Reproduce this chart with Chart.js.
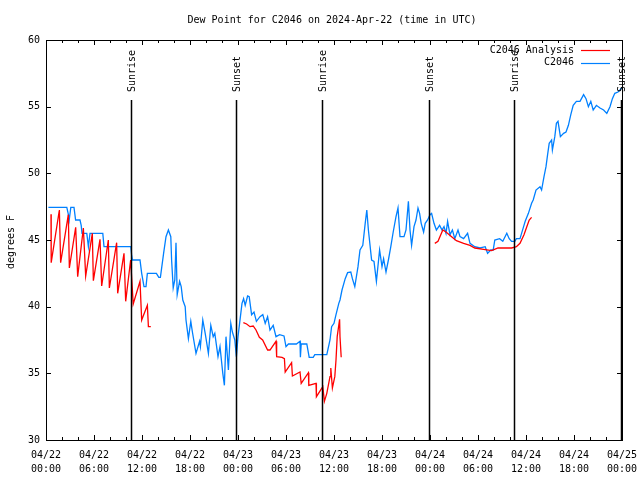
<!DOCTYPE html>
<html>
<head>
<meta charset="utf-8">
<script src="https://cdn.jsdelivr.net/npm/chart.js@4/dist/chart.umd.min.js"></script>
<style>
  html, body { margin: 0; padding: 0; background: #fff; }
  #c { display: block; }
</style>
</head>
<body>
<canvas id="c" width="640" height="480"></canvas>
<script>
// hours since 04/22 00:00 UTC
var obsHours = [0.3,2.6,2.8,2.9,3.1,3.5,3.7,4.25,4.4,4.5,5.1,5.3,5.5,7.1,7.25,10.6,10.7,10.8,11.75,11.96,
  12.25,12.5,12.67,13.8,14.1,14.3,14.7,15.0,15.3,15.6,15.7,15.9,16.1,16.25,16.4,16.7,16.9,17.1,17.4,17.5,
  17.8,18.1,18.3,18.75,19.2,19.3,19.6,19.9,20.3,20.6,20.9,21.1,21.5,21.75,22.1,22.3,22.5,22.8,23.1,23.3,
  23.6,23.8,24.0,24.5,24.7,24.9,25.2,25.4,25.7,26.0,26.3,26.75,27.1,27.4,27.7,28.0,28.4,28.75,29.2,29.75,
  30.0,30.3,31.3,31.75,31.8,31.9,32.6,32.9,33.4,33.6,35.1,35.5,35.7,36.0,36.25,36.6,36.75,37.0,37.4,37.7,
  38.1,38.3,38.6,39.0,39.25,39.6,39.9,40.1,40.3,40.7,41.0,41.3,41.7,42.0,42.2,42.5,42.8,43.1,43.4,43.75,
  44.0,44.25,44.75,45.0,45.3,45.5,45.7,46.0,46.25,46.5,46.7,46.9,47.2,47.4,47.7,48.0,48.2,48.5,48.8,49.2,
  49.5,49.75,50.0,50.2,50.5,50.8,51.1,51.5,51.75,52.2,52.7,53.0,53.6,54.25,54.9,55.2,55.6,55.9,56.1,56.7,
  57.1,57.6,57.9,58.2,58.6,58.8,59.25,59.7,59.9,60.3,60.7,60.9,61.25,61.75,61.95,62.25,62.5,62.7,62.9,63.2,
  63.3,63.6,63.8,64.0,64.3,64.7,65.0,65.3,65.6,65.9,66.3,66.75,67.2,67.5,67.8,68.1,68.4,68.8,69.25,69.7,
  70.1,70.5,70.8,71.1,71.5,71.75,71.95];
var obsDew = [47.45,47.45,46.9,46.5,47.45,47.45,46.5,46.5,46.1,45.5,45.5,44.5,45.5,45.5,44.5,44.5,43.9,43.5,43.5,42.5,
  41.5,41.5,42.5,42.5,42.2,42.2,44.0,45.25,45.75,45.25,43.5,41.4,42.0,44.8,40.9,41.9,41.5,40.5,40.0,39.0,
  37.6,38.9,38.1,36.5,37.4,37.0,39.0,38.0,36.5,38.6,37.75,38.0,36.25,37.0,35.0,34.1,37.75,35.25,38.75,38.1,
  37.5,36.25,37.75,40.25,40.6,40.1,40.8,40.75,39.4,39.6,38.9,39.25,39.4,38.75,39.25,38.25,38.6,37.75,37.9,37.8,
  37.0,37.2,37.2,37.4,36.2,37.2,37.2,36.2,36.2,36.4,36.4,37.5,38.5,38.75,39.4,40.25,40.5,41.25,42.1,42.55,
  42.6,42.1,41.5,43.0,44.25,44.6,46.25,47.25,45.75,43.5,43.4,41.9,44.25,43.0,43.6,42.6,43.5,44.5,45.6,46.75,
  47.4,45.25,45.25,45.75,47.9,45.75,44.6,46.0,46.5,47.4,47.0,46.25,45.6,46.25,46.5,46.9,47.0,46.25,45.75,46.1,
  45.75,46.0,45.5,46.4,45.4,45.75,45.1,45.75,45.25,45.1,45.5,44.75,44.5,44.4,44.5,44.0,44.25,44.25,45.0,45.1,
  44.9,45.5,45.1,44.9,44.9,45.1,45.1,46.0,46.4,47.0,47.75,48.0,48.75,49.0,48.75,49.75,50.5,51.4,52.25,52.5,
  51.75,52.75,53.75,53.9,52.75,53.0,53.1,53.6,54.4,55.1,55.4,55.4,55.9,55.6,55.0,55.4,54.75,55.1,54.9,54.75,
  54.5,55.0,55.6,56.0,56.1,56.25,56.4];

// analysis series, null = gap
var anaHours = [0.625,0.65,1.67,1.83,2.79,2.92,3.71,3.96,4.67,4.96,5.79,5.92,6.75,6.96,7.79,7.92,8.83,8.96,9.75,9.96,
  10.58,10.9,11.75,11.96,12.67,12.8,13.1,
  18,
  24.67,25.08,25.5,25.9,26.25,26.67,27.08,27.7,28.0,28.75,28.83,29.5,29.8,29.9,30.7,30.8,31.75,31.9,32.8,32.85,
  33.75,33.8,34.6,34.8,35.1,35.5,35.6,35.8,36.1,36.25,36.4,36.7,36.75,36.9,
  42,
  48.6,49.0,49.6,50.0,50.7,51.3,52.2,53.0,53.6,54.7,55.7,56.5,58.2,58.8,59.25,59.75,60.1,60.4,60.7];
var anaDew = [46.93,43.3,47.25,43.3,46.9,42.9,45.95,42.25,45.9,42.3,45.5,41.95,45.05,41.55,45.0,41.4,44.8,41.0,44.0,40.4,
  43.5,40.2,41.9,39.0,40.1,38.5,38.5,
  null,
  38.8,38.7,38.5,38.55,38.25,37.7,37.5,36.75,36.75,37.4,36.25,36.2,36.1,35.1,35.8,34.8,35.1,34.25,35.05,34.1,
  34.25,33.25,34.0,32.9,33.5,34.75,35.4,33.9,34.75,36.0,37.75,39.05,37.75,36.2,
  null,
  44.75,44.9,45.75,45.6,45.25,44.95,44.75,44.6,44.4,44.3,44.2,44.4,44.4,44.5,44.75,45.4,46.0,46.5,46.7];

var sunHours = [10.6, 23.75, 34.5, 47.9, 58.5, 71.85];
var sunLabels = ['Sunrise', 'Sunset', 'Sunrise', 'Sunset', 'Sunrise', 'Sunset'];

var xTickHours = [0, 6, 12, 18, 24, 30, 36, 42, 48, 54, 60, 66, 72];
var xTickLabels = [['04/22','00:00'],['04/22','06:00'],['04/22','12:00'],['04/22','18:00'],
  ['04/23','00:00'],['04/23','06:00'],['04/23','12:00'],['04/23','18:00'],
  ['04/24','00:00'],['04/24','06:00'],['04/24','12:00'],['04/24','18:00'],['04/25','00:00']];
var yTicks = [30, 35, 40, 45, 50, 55, 60];

var FONT = '10px "DejaVu Sans Mono", monospace';
Chart.defaults.font.family = '"DejaVu Sans Mono", monospace';
Chart.defaults.font.size = 10;
Chart.defaults.color = '#000';

function pts(xs, ys) {
  return xs.map(function(x, i) { return {x: x, y: ys[i]}; });
}

// gnuplot-like frame: border, inward ticks, sun markers, legend, titles
var gnuFrame = {
  id: 'gnuFrame',
  afterDatasetsDraw: function(chart) {
    var ctx = chart.ctx, a = chart.chartArea;
    var xs = chart.scales.x, ys = chart.scales.y;
    ctx.save();
    ctx.strokeStyle = '#000';
    ctx.fillStyle = '#000';
    ctx.font = FONT;

    // sunrise / sunset
    ctx.lineWidth = 1.5;
    sunHours.forEach(function(h, i) {
      var px = Math.round(xs.getPixelForValue(h)) + 0.5;
      ctx.beginPath();
      ctx.moveTo(px, ys.getPixelForValue(55.5));
      ctx.lineTo(px, a.bottom);
      ctx.stroke();
      ctx.save();
      ctx.translate(px + 1, ys.getPixelForValue(55.5) - 8);
      ctx.rotate(-Math.PI / 2);
      ctx.textAlign = 'left';
      ctx.textBaseline = 'middle';
      ctx.fillText(sunLabels[i], 0, 0);
      ctx.restore();
    });

    // border
    ctx.lineWidth = 1;
    ctx.strokeRect(a.left + 0.5, a.top + 0.5, a.right - a.left, a.bottom - a.top);

    // ticks
    ctx.beginPath();
    for (var h = 0; h <= 72; h += 2) {
      var px = Math.round(xs.getPixelForValue(h)) + 0.5;
      var len = (h % 6 === 0) ? 5 : 3;
      ctx.moveTo(px, a.bottom); ctx.lineTo(px, a.bottom - len);
      ctx.moveTo(px, a.top); ctx.lineTo(px, a.top + len);
    }
    yTicks.forEach(function(v) {
      var py = Math.round(ys.getPixelForValue(v)) + 0.5;
      ctx.moveTo(a.left, py); ctx.lineTo(a.left + 5, py);
      ctx.moveTo(a.right, py); ctx.lineTo(a.right - 5, py);
    });
    ctx.stroke();

    // legend
    ctx.textAlign = 'right';
    ctx.textBaseline = 'middle';
    chart.data.datasets.forEach(function(ds, i) {
      var ly = 50 + i * 12.5;
      ctx.fillText(ds.label, 574, ly);
      ctx.strokeStyle = ds.borderColor;
      ctx.lineWidth = 1.2;
      ctx.beginPath();
      ctx.moveTo(581, Math.round(ly) + 0.5);
      ctx.lineTo(610, Math.round(ly) + 0.5);
      ctx.stroke();
    });

    // title + y axis title
    ctx.textAlign = 'center';
    ctx.fillText('Dew Point for C2046 on 2024-Apr-22 (time in UTC)', 332, 20);
    ctx.save();
    ctx.translate(11, 242);
    ctx.rotate(-Math.PI / 2);
    ctx.fillText('degrees F', 0, 0);
    ctx.restore();
    ctx.restore();
  }
};

new Chart(document.getElementById('c'), {
  type: 'line',
  data: {
    datasets: [
      {
        label: 'C2046 Analysis',
        data: pts(anaHours, anaDew),
        borderColor: '#ff0000',
        borderWidth: 1.3,
        pointRadius: 0,
        tension: 0,
        spanGaps: false
      },
      {
        label: 'C2046',
        data: pts(obsHours, obsDew),
        borderColor: '#0080ff',
        borderWidth: 1.3,
        pointRadius: 0,
        tension: 0
      }
    ]
  },
  options: {
    responsive: false,
    animation: false,
    devicePixelRatio: 1,
    layout: { padding: { top: 40, right: 18, left: 0, bottom: 0 } },
    plugins: {
      legend: { display: false },
      title: { display: false },
      tooltip: { enabled: false }
    },
    scales: {
      x: {
        type: 'linear',
        min: 0,
        max: 72,
        grid: { display: false, drawTicks: false },
        border: { display: false },
        afterBuildTicks: function(scale) {
          scale.ticks = xTickHours.map(function(v) { return {value: v}; });
        },
        afterFit: function(scale) {
          scale.height = 40;
          scale.paddingLeft = 0;
          scale.paddingRight = 0;
        },
        ticks: {
          autoSkip: false,
          maxRotation: 0,
          padding: 8,
          font: { size: 10, lineHeight: 1.4 },
          callback: function(v, i) { return xTickLabels[i]; }
        }
      },
      y: {
        min: 30,
        max: 60,
        grid: { display: false, drawTicks: false },
        border: { display: false },
        afterBuildTicks: function(scale) {
          scale.ticks = yTicks.map(function(v) { return {value: v}; });
        },
        afterFit: function(scale) {
          scale.width = 46;
          scale.paddingTop = 0;
          scale.paddingBottom = 0;
        },
        ticks: { padding: 6 }
      }
    }
  },
  plugins: [gnuFrame]
});
</script>
</body>
</html>
